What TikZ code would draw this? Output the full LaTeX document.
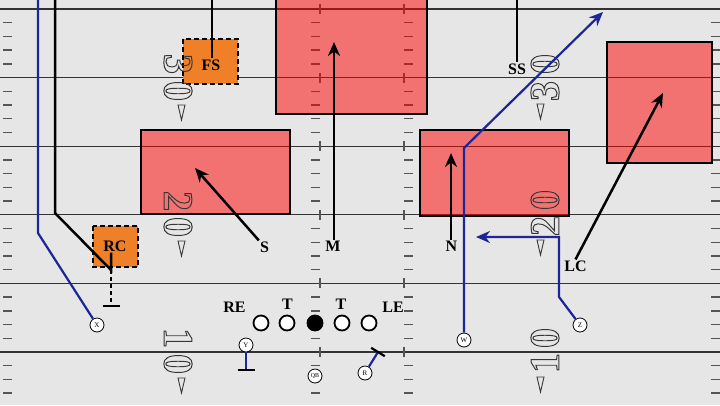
\documentclass[tikz,border=0pt]{standalone}
\usepackage{graphicx}
\usepackage{fontspec}
\setmainfont{Liberation Serif}
\usetikzlibrary{arrows.meta,calc}
\definecolor{fieldbg}{RGB}{230,230,230}
\definecolor{routeblue}{RGB}{28,38,150}
\definecolor{covorange}{RGB}{240,128,40}
\definecolor{numgray}{RGB}{55,55,55}
\definecolor{hashgray}{RGB}{85,85,85}
\newcommand{\hollowdigit}[1]{\scalebox{0.95}[1]{\special{pdf:literal direct 1 Tr 1 w}#1\special{pdf:literal direct 0 Tr}}}
\begin{document}
\begin{tikzpicture}[x=1pt,y=-1pt,
  yardline/.style={draw=black!80,line width=1.2pt},
  hashtick/.style={draw=hashgray,line width=1.4pt},
  zonebox/.style={fill=red,fill opacity=0.5,draw=black,line width=2pt},
  covbox/.style={fill=covorange,draw=black,line width=2pt,dash pattern=on 5pt off 3pt},
  deflabel/.style={font=\bfseries\fontsize{16}{16}\selectfont,inner sep=1pt},
  defroute/.style={draw=black,line width=2.5pt},
  defarrow/.style={defroute,-{Stealth[length=14pt,width=12pt]}},
  offroute/.style={draw=routeblue,line width=2.2pt},
  offarrow/.style={offroute,-{Stealth[length=14pt,width=12pt]}},
  blockbar/.style={draw=black,line width=2.2pt},
  rcv/.style={circle,draw=black,line width=0.8pt,fill=white,minimum size=14pt,inner sep=0pt,font=\fontsize{7}{7}\selectfont},
  lineman/.style={circle,draw=black,line width=1.8pt,fill=white,minimum size=15pt,inner sep=0pt},
  olabel/.style={font=\bfseries\fontsize{16}{16}\selectfont,inner sep=1pt},
  numL/.style={rotate=-90,inner sep=0pt,text=numgray,font=\bfseries\fontsize{42}{42}\selectfont},
  numR/.style={rotate=90,inner sep=0pt,text=numgray,font=\bfseries\fontsize{42}{42}\selectfont},
  ydarrow/.style={draw=numgray,line width=0.9pt,line join=miter}
]
\useasboundingbox (0,0) rectangle (720,405);
\fill[fieldbg] (0,0) rectangle (720,405);

% field markings
\foreach \i in {0,...,28}{
  \pgfmathsetmacro{\yy}{9+13.72*\i}
  \pgfmathtruncatemacro{\rr}{mod(\i,5)}
  \ifnum\rr=0
    \draw[yardline] (0,\yy) -- (720,\yy);
    \draw[hashtick] (320,\yy-5) -- (320,\yy+5);
    \draw[hashtick] (404,\yy-5) -- (404,\yy+5);
  \else
    \draw[hashtick] (3,\yy) -- (12,\yy);
    \draw[hashtick] (311,\yy) -- (320,\yy);
    \draw[hashtick] (404,\yy) -- (413,\yy);
    \draw[hashtick] (711,\yy) -- (720,\yy);
  \fi
}

% zones
\draw[zonebox] (276,-5) rectangle (427,114);
\draw[zonebox] (141,130) rectangle (290,214);
\draw[zonebox] (420,130) rectangle (569,216);
\draw[zonebox] (607,42) rectangle (712,163);
\draw[covbox] (183,39) rectangle (238,84);
\draw[covbox] (93,226) rectangle (138,267);

% yard numbers, left side
\node[numL] (l3) at (178,64) {\hollowdigit{3}};
\node[numL] (l30) at (178,91) {\hollowdigit{0}};
\node[numL] (l2) at (178,201) {\hollowdigit{2}};
\node[numL] (l20) at (178,227) {\hollowdigit{0}};
\node[numL] (l1) at (178,338) {\hollowdigit{1}};
\node[numL] (l10) at (178,364) {\hollowdigit{0}};
% yard numbers, right side
\node[numR] (r30) at (545,64) {\hollowdigit{0}};
\node[numR] (r3) at (545,91) {\hollowdigit{3}};
\node[numR] (r20) at (545,200) {\hollowdigit{0}};
\node[numR] (r2) at (545,226) {\hollowdigit{2}};
\node[numR] (r10) at (545,338) {\hollowdigit{0}};
\node[numR] (r1) at (545,363) {\hollowdigit{1}};
% direction triangles
\foreach \tx/\ty in {181.5/105,181.5/241,181.5/378,540.5/104,540.5/240,540.5/377}{
  \draw[ydarrow] (\tx-3.5,\ty) -- (\tx+3.5,\ty) -- (\tx,\ty+15) -- cycle;
}

% defenders
\node[deflabel] (FS) at (211,65) {FS};
\node[deflabel] (SS) at (517,69) {SS};
\node[deflabel] (RC) at (115,246) {RC};
\node[deflabel] (S) at (264.5,247) {S};
\node[deflabel] (M) at (333,246) {M};
\node[deflabel] (N) at (451.5,246) {N};
\node[deflabel] (LC) at (575.5,266) {LC};

\coordinate (fsTop) at (212,-3);
\coordinate (ssTop) at (517,-3);
\coordinate (rcPt) at (111,270);
\coordinate (rcBend) at (55,213);
\coordinate (rcTop) at (55,-3);
\coordinate (rcBlock) at (111,306);
\coordinate (sTip) at (195,168);
\coordinate (mTip) at (334,42);
\coordinate (nTip) at (451,153);
\coordinate (lcTip) at (663,93);

\draw[defroute] (FS.north -| fsTop) -- (fsTop);
\draw[defroute] (SS.north) -- (ssTop);
\draw[defroute] (RC.south -| rcPt) -- (rcPt) -- (rcBend) -- (rcTop);
\draw[defroute,line width=2.4pt,dash pattern=on 4pt off 3pt] (rcPt) -- (rcBlock);
\draw[blockbar] ($(rcBlock)+(-8.5,0)$) -- ($(rcBlock)+(8.5,0)$);
\draw[defarrow] (S.north west) -- (sTip);
\draw[defarrow] (M.north -| mTip) -- (mTip);
\draw[defarrow] (N.north -| nTip) -- (nTip);
\draw[defarrow] (LC.north) -- (lcTip);

% offense routes
\node[rcv] (X) at (97,325) {X};
\node[rcv] (W) at (464,340) {W};
\node[rcv] (Z) at (580,325) {Z};
\node[rcv] (Y) at (246,345) {Y};
\node[rcv] (R) at (365,373) {R};
\node[rcv,font=\fontsize{6}{6}\selectfont] (QB) at (315,376) {QB};

\coordinate (xBend) at (38,233);
\coordinate (xTop) at (38,-3);
\coordinate (wBend) at (464,148);
\coordinate (wTip) at (603,12);
\coordinate (zBend1) at (559,297);
\coordinate (zBend2) at (559,237);
\coordinate (zTip) at (476,237);
\coordinate (yBlock) at (246,370);
\coordinate (rBlock) at (378,352);

\draw[offroute] (X) -- (xBend) -- (xTop);
\draw[offarrow] (W) -- (wBend) -- (wTip);
\draw[offarrow] (Z) -- (zBend1) -- (zBend2) -- (zTip);
\draw[offroute] (Y) -- (yBlock);
\draw[blockbar] ($(yBlock)+(-8.5,0)$) -- ($(yBlock)+(8.5,0)$);
\draw[offroute] (R) -- (rBlock);
\draw[blockbar] ($(rBlock)+(-6.8,-4.2)$) -- ($(rBlock)+(6.8,4.2)$);

% line
\node[lineman] (RT) at (261,323) {};
\node[lineman] (RG) at (287,323) {};
\node[lineman,fill=black] (C) at (315,323) {};
\node[lineman] (LG) at (342,323) {};
\node[lineman] (LT) at (369,323) {};
\node[olabel] (REl) at (234.5,307) {RE};
\node[olabel] (T1) at (287.5,304) {T};
\node[olabel] (T2) at (341,304) {T};
\node[olabel] (LEl) at (393,307) {LE};
\end{tikzpicture}
\end{document}
